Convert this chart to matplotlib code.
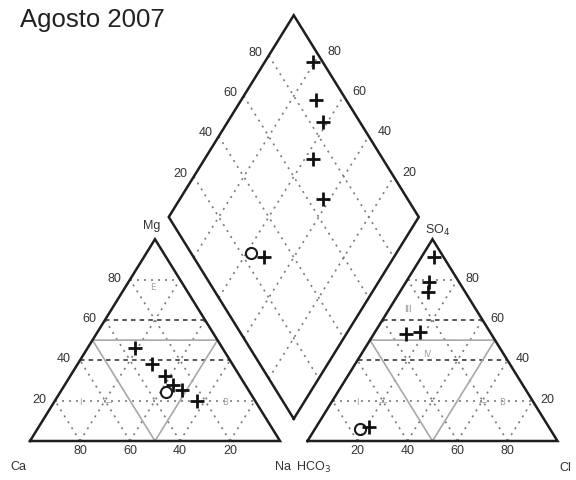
import numpy as np
import matplotlib.pyplot as plt

# Piper diagram, August 2007 campaign
title = "Agosto 2007"

# Cation composition (% meq/L)
ca = [35.0, 32.0, 30.0, 29.0, 23.0, 33.5, 26.5]
mg = [46.0, 38.0, 32.0, 28.0, 20.0, 24.5, 25.5]
na = [19.0, 30.0, 38.0, 43.0, 57.0, 42.0, 48.0]

# Anion composition (% meq/L)
hco3 = [4.0, 12.0, 15.0, 28.0, 34.0, 76.0, 72.0]
so4 = [91.0, 79.0, 74.0, 54.0, 53.0, 6.0, 7.0]
cl = [5.0, 9.0, 11.0, 18.0, 13.0, 18.0, 21.0]

symbols = ['+', '+', '+', '+', '+', 'o', '+']

tick_values = [20, 40, 60, 80]

GAP = 0.11
H = np.sqrt(3) / 2
S3 = np.sqrt(3)

fig = plt.figure(figsize=(5.76, 4.8), dpi=100)
ax = fig.add_axes([0, 0, 1, 1])
k = 233.0
ax.set_xlim(-30 / 250, (576 - 30) / 250)
ax.set_ylim((441 - 480) / k, 441 / k)
ax.axis('off')

OUT = dict(color='#1e1e1e', lw=1.8, solid_joinstyle='miter', zorder=3)
DOT = dict(color='#7a7a7a', lw=1.2, linestyle=(0, (1.2, 3.0)), zorder=1)
DASH = dict(color='#4a4a4a', lw=1.3, linestyle=(0, (2.5, 2.3)), zorder=1)
FAC = dict(color='#a8a8a8', lw=1.2, zorder=2)


def cation_xy(c_na, c_mg):
    return c_na + 0.5 * c_mg, H * c_mg


def anion_xy(a_cl, a_so4):
    return 1 + GAP + a_cl + 0.5 * a_so4, H * a_so4


def diamond_xy(u, v):
    return (u + v) / 2, (v - u) * H


def lower_triangle(x0):
    pts = np.array([[x0, 0], [x0 + 1, 0], [x0 + 0.5, H], [x0, 0]])
    ax.plot(pts[:, 0], pts[:, 1], **OUT)
    for t in tick_values:
        f = t / 100
        style = DASH if t in (40, 60) else DOT
        ax.plot([x0 + 0.5 * f, x0 + 1 - 0.5 * f], [H * f, H * f], **style)
        ax.plot([x0 + f, x0 + f + 0.5 * (1 - f)], [0, H * (1 - f)], **DOT)
        ax.plot([x0 + 1 - f, x0 + 0.5 * (1 - f)], [0, H * (1 - f)], **DOT)
    m = np.array([[x0 + 0.25, H / 2], [x0 + 0.75, H / 2], [x0 + 0.5, 0],
                  [x0 + 0.25, H / 2]])
    ax.plot(m[:, 0], m[:, 1], **FAC)


lower_triangle(0.0)
lower_triangle(1 + GAP)

# central diamond
corners = [diamond_xy(1, 1 + GAP), diamond_xy(0, 1 + GAP),
           diamond_xy(0, 2 + GAP), diamond_xy(1, 2 + GAP),
           diamond_xy(1, 1 + GAP)]
ax.plot([c[0] for c in corners], [c[1] for c in corners], **OUT)
for t in tick_values:
    f = t / 100
    a = diamond_xy(f, 1 + GAP)
    b = diamond_xy(f, 2 + GAP)
    ax.plot([a[0], b[0]], [a[1], b[1]], **DOT)
    a = diamond_xy(0, 1 + GAP + f)
    b = diamond_xy(1, 1 + GAP + f)
    ax.plot([a[0], b[0]], [a[1], b[1]], **DOT)

TK = dict(fontsize=9, color='#333333', ha='center', va='center',
          textcoords='offset pixels', family='Liberation Sans', zorder=4)

for t in tick_values:
    f = t / 100
    # left triangle: Mg on left edge, Ca along base
    ax.annotate(str(t), (0.5 * f, H * f), xytext=(-16, 1), **TK)
    ax.annotate(str(t), (1 - f, 0), xytext=(0, -10), **TK)
    # right triangle: SO4 on right edge, Cl along base
    ax.annotate(str(t), (2 + GAP - 0.5 * f, H * f), xytext=(15, 1), **TK)
    ax.annotate(str(t), (1 + GAP + f, 0), xytext=(0, -10), **TK)
    # diamond edges
    p = diamond_xy(0, 1 + GAP + f)
    ax.annotate(str(t), p, xytext=(-13, 3), **TK)
    p = diamond_xy(1 - f, 2 + GAP)
    ax.annotate(str(t), p, xytext=(16, 4), **TK)

LB = dict(fontsize=9, color='#333333', ha='center', va='center',
          textcoords='offset pixels', family='Liberation Sans', zorder=4)
ax.annotate('Mg', (0.5, H), xytext=(-3, 13), **LB)
ax.annotate('Ca', (0, 0), xytext=(-12, -26), **LB)
ax.annotate('Na  HCO$_3$', (1 + GAP / 2, 0), xytext=(9, -26), **LB)
ax.annotate('Cl', (2 + GAP, 0), xytext=(8, -27), **LB)
ax.annotate('SO$_4$', (1.5 + GAP, H), xytext=(5, 9), **LB)

# faint facies codes
FT = dict(fontsize=6, color='#a0a0a0', ha='center', va='center')
ax.text(0.49, 0.66, 'E', **FT)
ax.text(0.20, 0.165, 'I', **FT)
ax.text(0.31, 0.165, '—', **FT)
ax.text(0.78, 0.165, 'B', **FT)
ax.text(1.51, 0.565, 'III', fontsize=6, color='#888888', ha='center', va='center')
ax.text(1.59, 0.37, 'IV', **FT)
ax.text(1.31, 0.165, 'I', **FT)
ax.text(1.41, 0.165, '—', **FT)
ax.text(1.61, 0.165, '·', **FT)
ax.text(1.81, 0.165, '—', **FT)
ax.text(1.89, 0.165, 'B', **FT)

# samples
for i in range(len(ca)):
    xc, yc = cation_xy(na[i] / 100, mg[i] / 100)
    xa, ya = anion_xy(cl[i] / 100, so4[i] / 100)
    u = xc - yc / S3
    v = xa + ya / S3
    xd, yd = diamond_xy(u, v)
    if symbols[i] == 'o':
        kw = dict(marker='o', ms=8, mfc='none', mec='#1a1a1a', mew=1.5)
    else:
        kw = dict(marker='+', ms=9.5, mec='#111111', mew=2.0)
    ax.plot([xc, xa, xd], [yc, ya, yd], linestyle='none', zorder=5, **kw)

fig.text(20 / 576, 1 - 20 / 480, title, fontsize=18.5, family='Liberation Sans',
         color='#222222', ha='left', va='center')

fig.savefig('out.png', dpi=100, facecolor='white')
